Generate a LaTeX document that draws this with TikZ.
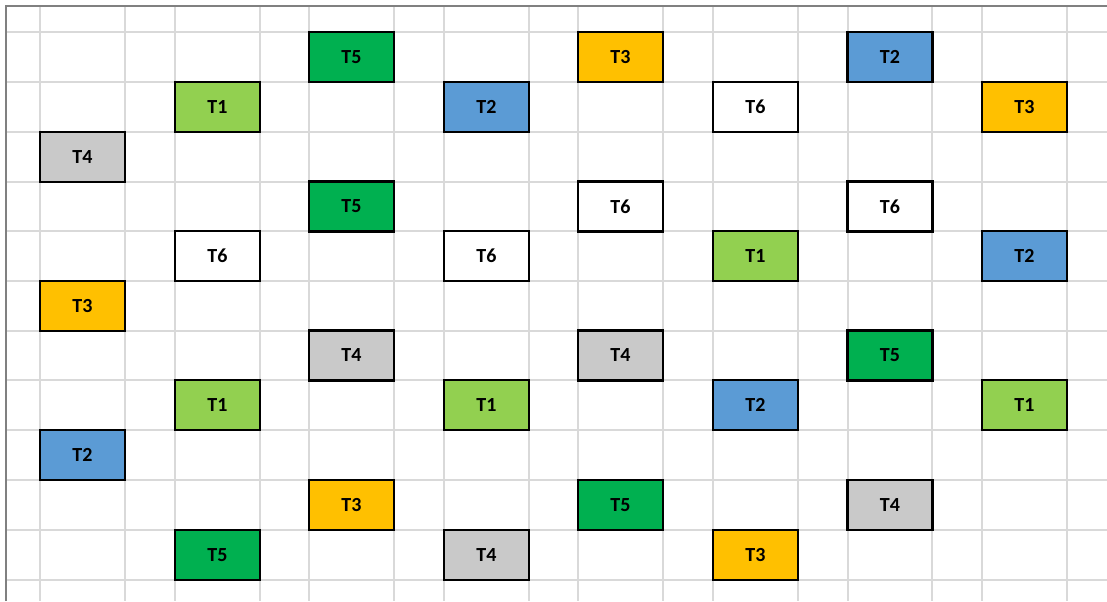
\documentclass[tikz,border=0pt]{standalone}
\usepackage{fontspec}
\setmainfont{Carlito}
\definecolor{verdeclaro}{HTML}{92D050}
\definecolor{verde}{HTML}{00B050}
\definecolor{azul}{HTML}{5B9BD5}
\definecolor{naranja}{HTML}{FFC000}
\definecolor{gris}{HTML}{C9C9C9}
\definecolor{rejilla}{HTML}{D9D9D9}
\tikzset{
  tarea/.style={draw=black, line width=1.8pt, minimum width=63.75pt, minimum height=37.5pt,
    inner sep=0pt, font=\fontsize{15}{18}\selectfont\bfseries},
  tuno/.style={tarea, fill=verdeclaro},
  tdos/.style={tarea, fill=azul},
  ttres/.style={tarea, fill=naranja},
  tcuatro/.style={tarea, fill=gris},
  tcinco/.style={tarea, fill=verde},
  tseis/.style={tarea, fill=white}
}
\begin{document}
\begin{tikzpicture}[x=0.75pt, y=-0.75pt]
  \useasboundingbox (0,0) rectangle (1107,601);
  % Rejilla de fondo
  \foreach \y in {32,82,132,182,231,281,331,380,430,480,530,580}
    \draw[rejilla, line width=0.9pt] (6,\y) -- (1107,\y);
  \foreach \x in {40,125,175,260,309,394,444,529,578,663,713,798,848,932,982,1067}
    \draw[rejilla, line width=0.9pt] (\x,6) -- (\x,601);
  \draw[gray, line width=0.9pt] (6,601) -- (6,6) -- (1107,6);

  % Fila 1
  \node[tcinco] (a1) at (351.5,57) {T5};
  \node[ttres]  (a2) at (620.5,57) {T3};
  \node[tdos]   (a3) at (890,57) {T2};
  % Fila 2
  \node[tuno]   (b1) at (217.5,107) {T1};
  \node[tdos]   (b2) at (486.5,107) {T2};
  \node[tseis]  (b3) at (755.5,107) {T6};
  \node[ttres]  (b4) at (1024.5,107) {T3};
  % Fila 3
  \node[tcuatro] (c1) at (82.5,157) {T4};
  % Fila 4
  \node[tcinco] (d1) at (351.5,206.5) {T5};
  \node[tseis]  (d2) at (620.5,206.5) {T6};
  \node[tseis]  (d3) at (890,206.5) {T6};
  % Fila 5
  \node[tseis]  (e1) at (217.5,256) {T6};
  \node[tseis]  (e2) at (486.5,256) {T6};
  \node[tuno]   (e3) at (755.5,256) {T1};
  \node[tdos]   (e4) at (1024.5,256) {T2};
  % Fila 6
  \node[ttres]  (f1) at (82.5,306) {T3};
  % Fila 7
  \node[tcuatro] (g1) at (351.5,355.5) {T4};
  \node[tcuatro] (g2) at (620.5,355.5) {T4};
  \node[tcinco]  (g3) at (890,355.5) {T5};
  % Fila 8
  \node[tuno]   (h1) at (217.5,405) {T1};
  \node[tuno]   (h2) at (486.5,405) {T1};
  \node[tdos]   (h3) at (755.5,405) {T2};
  \node[tuno]   (h4) at (1024.5,405) {T1};
  % Fila 9
  \node[tdos]   (i1) at (82.5,455) {T2};
  % Fila 10
  \node[ttres]   (j1) at (351.5,505) {T3};
  \node[tcinco]  (j2) at (620.5,505) {T5};
  \node[tcuatro] (j3) at (890,505) {T4};
  % Fila 11
  \node[tcinco]  (k1) at (217.5,555) {T5};
  \node[tcuatro] (k2) at (486.5,555) {T4};
  \node[ttres]   (k3) at (755.5,555) {T3};
\end{tikzpicture}
\end{document}
